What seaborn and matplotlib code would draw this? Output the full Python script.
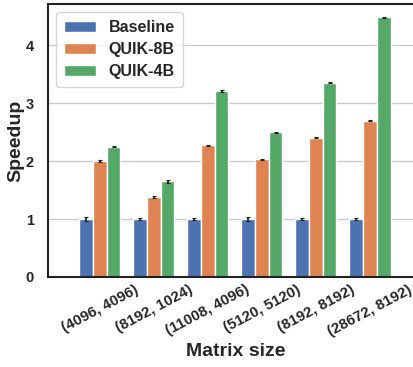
import numpy as np
import pandas as pd
import matplotlib
matplotlib.use("Agg")
import matplotlib.pyplot as plt
import seaborn as sns

sizes = ["(4096, 4096)", "(8192, 1024)", "(11008, 4096)", "(5120, 5120)", "(8192, 8192)", "(28672, 8192)"]
methods = ["Baseline", "QUIK-8B", "QUIK-4B"]
baseline = [1.0, 1.0, 1.0, 1.0, 1.0, 1.0]
quik8 = [2.0, 1.38, 2.27, 2.03, 2.40, 2.70]
quik4 = [2.25, 1.65, 3.21, 2.50, 3.35, 4.48]
baseline_err = [0.03, 0.01, 0.01, 0.03, 0.01, 0.01]
quik8_err = [0.01, 0.01, 0.01, 0.01, 0.01, 0.01]
quik4_err = [0.01, 0.02, 0.01, 0.01, 0.01, 0.01]

df = pd.DataFrame({
    "Matrix size": sizes * 3,
    "Method": [m for m in methods for _ in sizes],
    "Speedup": baseline + quik8 + quik4,
    "err": baseline_err + quik8_err + quik4_err,
})

sns.set_theme(style="whitegrid")
plt.rcParams["font.family"] = ["Liberation Sans", "DejaVu Sans"]
plt.rcParams["font.weight"] = "bold"

fig = plt.figure(figsize=(4.14, 3.67), dpi=100)
ax = fig.add_axes([48 / 414, 90 / 367, 376 / 414, 273 / 367])

sns.barplot(data=df, x="Matrix size", y="Speedup", hue="Method",
            palette="deep", saturation=1, width=0.76, errorbar=None, ax=ax)

# small error bars on top of each bar
for cont, m in zip(ax.containers, methods):
    sub = df[df["Method"] == m]
    xs = [b.get_x() + b.get_width() / 2 for b in cont]
    ax.errorbar(xs, sub["Speedup"], yerr=sub["err"], fmt="none",
                ecolor="#222222", elinewidth=1.3, capsize=1.2, capthick=0.8)

ax.set_xlim(-0.96, 6.0)
ax.set_ylim(0, 4.71)
ax.set_yticks([0, 1, 2, 3, 4])
ax.grid(axis="x", visible=False)
ax.grid(axis="y", color="#cccccc", linewidth=1)
for s in ["left", "bottom", "top"]:
    ax.spines[s].set_color("#222222")
    ax.spines[s].set_linewidth(1.5)
ax.spines["right"].set_visible(False)

ax.set_xlabel("Matrix size", fontsize=14, fontweight="bold", labelpad=3)
ax.set_ylabel("Speedup", fontsize=14, fontweight="bold", labelpad=1)
ax.tick_params(axis="y", labelsize=10.5, pad=4)
ax.tick_params(axis="x", labelsize=10.8, pad=-2)
plt.setp(ax.get_xticklabels(), rotation=28, ha="center", fontweight="bold")
plt.setp(ax.get_yticklabels(), fontweight="bold")

leg = ax.legend(loc="upper left", title=None, frameon=True,
                prop={"weight": "bold", "size": 11.5}, handlelength=2.0,
                labelspacing=0.45, borderpad=0.5)

fig.savefig("out.png", dpi=100)
